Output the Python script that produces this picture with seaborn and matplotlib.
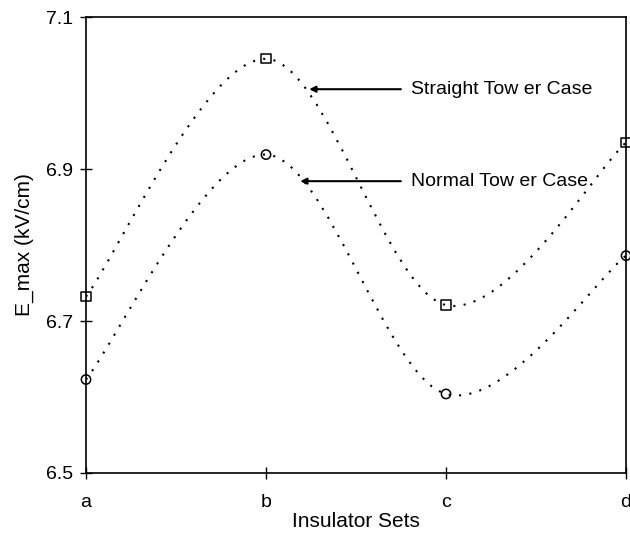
import numpy as np
import matplotlib
matplotlib.use("Agg")
import matplotlib.pyplot as plt
import seaborn as sns
from matplotlib.path import Path
from matplotlib.patches import PathPatch

insulator_sets = ["a", "b", "c", "d"]
straight_tower = [6.732, 7.045, 6.721, 6.935]
normal_tower = [6.623, 6.919, 6.604, 6.786]
y_ticks = [6.5, 6.7, 6.9, 7.1]

sns.set_theme(style="white")
plt.rcParams["font.family"] = ["Liberation Sans", "DejaVu Sans"]


def smooth_path(xs, ys):
    """Excel-style smoothed line as cubic Bezier segments"""
    pts = np.column_stack([xs, ys]).astype(float)
    ext = np.vstack([pts[0], pts, pts[-1]])
    verts = [pts[0]]
    codes = [Path.MOVETO]
    for i in range(len(pts) - 1):
        p0, p1, p2, p3 = ext[i], ext[i + 1], ext[i + 2], ext[i + 3]
        c1 = p1 + (p2 - p0) / 6
        c2 = p2 - (p3 - p1) / 6
        verts += [c1, c2, p2]
        codes += [Path.CURVE4] * 3
    return Path(verts, codes)


fig = plt.figure(figsize=(6.3, 5.37), dpi=100)
ax = fig.add_axes([0.1365, 0.1192, 0.8572, 0.8491])

x = np.arange(len(insulator_sets))
for vals, mk in [(straight_tower, "s"), (normal_tower, "o")]:
    patch = PathPatch(smooth_path(x, vals), facecolor="none", edgecolor="black",
                      linewidth=1.5, linestyle=(0, (1, 4)), zorder=2)
    ax.add_patch(patch)
    sns.scatterplot(x=x, y=vals, marker=mk, s=45, facecolor="none",
                    edgecolor="black", linewidth=1.1, ax=ax, zorder=3, clip_on=False)

ax.set_xlim(0, 3)
ax.set_ylim(6.5, 7.1)
ax.set_xticks(x)
ax.set_xticklabels(insulator_sets)
ax.set_yticks(y_ticks)
ax.set_yticklabels([f"{v:.1f}" for v in y_ticks])
ax.tick_params(axis="both", direction="inout", length=8, width=1.0,
               color="black", labelsize=14, labelcolor="black",
               bottom=True, left=True)
ax.tick_params(axis="y", pad=5)
ax.tick_params(axis="x", pad=11)
for s in ax.spines.values():
    s.set_color("black")
    s.set_linewidth(1.2)

ax.set_xlabel("Insulator Sets", fontsize=15, color="black", labelpad=1)
ax.set_ylabel("E_max (kV/cm)", fontsize=15, color="black", labelpad=9)

ax.annotate("Straight Tow er Case", xy=(1.24, 7.005), xytext=(1.806, 7.005),
            fontsize=14, color="black", va="center", ha="left",
            arrowprops=dict(arrowstyle="-|>", color="black", lw=1.5,
                            mutation_scale=9, shrinkA=5, shrinkB=0))
ax.annotate("Normal Tow er Case", xy=(1.19, 6.884), xytext=(1.806, 6.884),
            fontsize=14, color="black", va="center", ha="left",
            arrowprops=dict(arrowstyle="-|>", color="black", lw=1.5,
                            mutation_scale=9, shrinkA=5, shrinkB=0))

fig.savefig("out.png", dpi=100)
